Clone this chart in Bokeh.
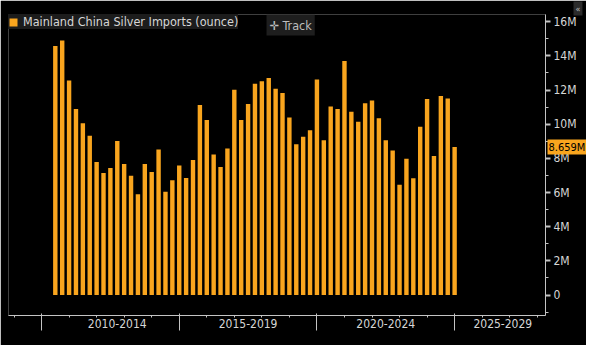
import pandas as pd
from bokeh.plotting import figure
from bokeh.models import (ColumnDataSource, FixedTicker, Range1d, Label, Legend,
                          LegendItem, LinearAxis)
from bokeh.embed import file_html
from bokeh.resources import INLINE

# ---- data ----
quarters = [str(q) for q in pd.period_range("2010Q2", "2024Q4", freq="Q")]
imports_m = [14.58, 14.90, 12.55, 10.89, 10.05, 9.32, 7.78, 7.14, 7.44, 9.01,
             7.67, 6.98, 5.90, 7.67, 7.20, 8.52, 6.05, 6.72, 7.58, 6.85,
             7.91, 11.12, 10.25, 8.22, 7.49, 8.57, 12.02, 10.25, 11.18, 12.37,
             12.51, 12.71, 12.08, 11.82, 10.39, 8.82, 9.26, 9.64, 12.62, 9.06,
             11.04, 10.89, 13.70, 10.72, 10.14, 11.22, 11.38, 10.34, 9.06, 8.46,
             6.45, 7.97, 6.83, 9.85, 11.47, 8.13, 11.65, 11.51, 8.659]
period_labels = ["2010-2014", "2015-2019", "2020-2024", "2025-2029"]
period_starts = [2010, 2015, 2020, 2025]
y_ticks = [0, 2, 4, 6, 8, 10, 12, 14, 16]
y_tick_labels = ["0", "2M", "4M", "6M", "8M", "10M", "12M", "14M", "16M"]
series_name = "Mainland China Silver Imports (ounce)"
last_value_label = "8.659M"

# quarter-end positions in fractional years
xs = [int(q[:4]) + int(q[-1]) * 0.25 for q in quarters]
src = ColumnDataSource(dict(x=xs, v=imports_m, q=quarters))

BG = "#000000"
ORANGE = "#F9A51E"
TXT = "#d6d6d6"
AX = "#c4c4c4"
FONT = "DejaVu Sans Condensed"

X0, X1 = 2008.80, 2028.30
Y0, Y1 = -1.2, 16.42

p = figure(width=586, height=345, output_backend="svg", toolbar_location=None,
           x_range=Range1d(X0, X1), y_range=Range1d(Y0, Y1),
           y_axis_location="right",
           background_fill_color=BG, border_fill_color=BG, outline_line_color=None,
           min_border_left=8, min_border_top=13, min_border_right=41, min_border_bottom=10)
p.grid.visible = False

r = p.vbar(x="x", top="v", bottom=0, width=0.16, source=src,
           fill_color=ORANGE, line_color=None)

# y axis (right)
ya = p.yaxis[0]
ya.ticker = FixedTicker(ticks=y_ticks, minor_ticks=[-1, 1, 3, 5, 7, 9, 11, 13, 15])
ya.major_label_overrides = {t: s for t, s in zip(y_ticks, y_tick_labels)}
ya.axis_line_color = AX
ya.major_tick_line_color = AX
ya.minor_tick_line_color = AX
ya.major_tick_line_width = 2
ya.major_tick_out = 5
ya.major_tick_in = 0
ya.minor_tick_out = 3
ya.minor_tick_in = 0
ya.major_label_standoff = 3
ya.major_label_text_color = TXT
ya.major_label_text_font = FONT
ya.major_label_text_font_size = "12px"

# x axis (below): line, yearly ticks and period labels
label_x = [2012.75, 2017.5, 2022.5, 2026.75]
xa = p.xaxis[0]
xa.ticker = FixedTicker(ticks=label_x, minor_ticks=list(range(2009, 2029)))
xa.major_label_overrides = {t: s for t, s in zip(label_x, period_labels)}
xa.axis_line_color = AX
xa.major_tick_line_color = None
xa.major_tick_out = 0
xa.major_tick_in = 0
xa.minor_tick_line_color = AX
xa.minor_tick_out = 2
xa.minor_tick_in = 0
xa.major_label_standoff = 1
xa.major_label_text_color = TXT
xa.major_label_text_font = FONT
xa.major_label_text_font_size = "12px"

# second x axis below the labels: long period-boundary ticks reaching up
xb = LinearAxis(ticker=FixedTicker(ticks=[], minor_ticks=period_starts),
                axis_line_color=None, major_tick_line_color=None,
                major_tick_out=0, major_tick_in=0,
                minor_tick_line_color=AX, minor_tick_out=0, minor_tick_in=17,
                major_label_standoff=0)
p.add_layout(xb, "below")

# last value tag (side panel so it may sit beside the axis)
p.add_layout(Label(x=X1, y=imports_m[-1], x_offset=2, text=last_value_label,
                   text_baseline="middle", text_align="left", text_color="#000000",
                   text_font=FONT, text_font_size="11px",
                   background_fill_color=ORANGE, padding=1), "below")

# collapse button (top panel)
p.add_layout(Label(x=X1, y=Y1, x_offset=28, y_offset=13, text="\u00AB",
                   text_baseline="top", text_align="left", text_color="#bbbbbb",
                   text_font=FONT, text_font_size="9px",
                   background_fill_color="#2b2b2b", padding=2), "above")

# legend box
legend = Legend(items=[LegendItem(label=series_name, renderers=[r])],
                location="top_left", margin=0, padding=7, spacing=0,
                glyph_width=10, glyph_height=10, label_standoff=5, label_height=13,
                background_fill_color="#1c1c1c", background_fill_alpha=1,
                border_line_color=None, label_text_color=TXT, label_text_font=FONT,
                label_text_font_size="12.5px")
p.add_layout(legend)

# Track button
p.add_layout(Label(x=2018.17, y=Y1, text="\u271B Track", text_baseline="top",
                   text_align="left", text_color="#bdbdbd", text_font=FONT,
                   text_font_size="12.5px", background_fill_color="#1e1e1e",
                   padding=3))

open("out.html", "w").write(file_html(p, INLINE))
